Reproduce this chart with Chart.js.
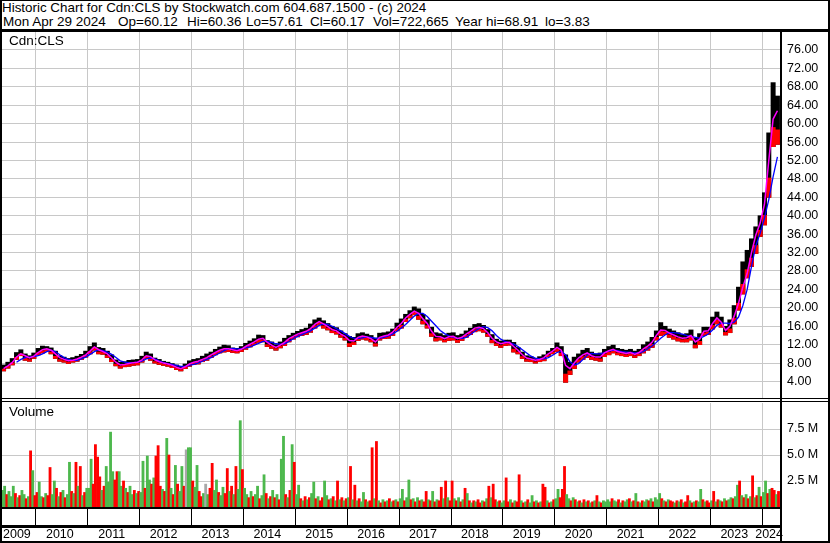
<!DOCTYPE html>
<html><head><meta charset="utf-8">
<script src="https://cdn.jsdelivr.net/npm/chart.js@4.4.1/dist/chart.umd.min.js"></script>
<style>
html,body{margin:0;padding:0;background:#fff;}
#wrap{position:relative;width:830px;height:543px;overflow:hidden;background:#fff;font-family:Arial,"Liberation Sans",sans-serif;color:#000;}
.ln{position:absolute;background:#000;}
.txt{position:absolute;white-space:pre;font-size:13.5px;line-height:14px;}
canvas{position:absolute;left:0;top:0;}
.box{position:absolute;}
</style></head><body>
<div id="wrap">
  <div class="box" style="left:2px;top:32px;width:826px;height:366px"><canvas id="price" width="826" height="366"></canvas></div>
  <div class="box" style="left:2px;top:403px;width:826px;height:138px"><canvas id="vol" width="826" height="138"></canvas></div>
  <div class="txt" style="left:2px;top:1px;font-size:13.4px">Historic Chart for Cdn:CLS by Stockwatch.com 604.687.1500 - (c) 2024</div>
  <div class="txt" style="left:3px;top:15px">Mon Apr 29 2024</div>
  <div class="txt" style="left:118px;top:15px">Op=60.12</div>
  <div class="txt" style="left:187px;top:15px">Hi=60.36</div>
  <div class="txt" style="left:246px;top:15px">Lo=57.61</div>
  <div class="txt" style="left:310px;top:15px">Cl=60.17</div>
  <div class="txt" style="left:373px;top:15px">Vol=722,665</div>
  <div class="txt" style="left:455px;top:15px">Year hi=68.91</div>
  <div class="txt" style="left:545px;top:15px">lo=3.83</div>
  <div class="txt" style="left:9px;top:34px">Cdn:CLS</div>
  <div class="txt" style="left:9px;top:405px">Volume</div>
  <div class="ln" style="left:0;top:0;width:830px;height:1px"></div>
  <div class="ln" style="left:0;top:0;width:2px;height:543px"></div>
  <div class="ln" style="left:828px;top:0;width:2px;height:543px"></div>
  <div class="ln" style="left:0;top:541px;width:830px;height:2px"></div>
  <div class="ln" style="left:0;top:29px;width:830px;height:3px"></div>
  <div class="ln" style="left:0;top:398px;width:830px;height:1px"></div>
  <div class="ln" style="left:0;top:401px;width:830px;height:1px"></div>
  <div class="ln" style="left:780px;top:32px;width:2px;height:511px"></div>
  <div class="ln" style="left:0;top:507px;width:782px;height:2px"></div>
  <div class="ln" style="left:0;top:525px;width:782px;height:3px"></div>
</div>
<script>
// ---------- DATA ----------
const yearLabels = ['2009','2010','2011','2012','2013','2014','2015','2016','2017','2018','2019','2020','2021','2022','2023','2024'];
const yearBoundaries = [2010,2011,2012,2013,2014,2015,2016,2017,2018,2019,2020,2021,2022,2023,2024];
const priceTicks = [4,8,12,16,20,24,28,32,36,40,44,48,52,56,60,64,68,72,76];
const volumeTicks = [2.5,5.0,7.5]; // millions

// Monthly price range, May 2009 .. Apr 2024
const priceLow = [
 6.3,6.9,7.6,8.8,9.6,8.6,8.4,9.0,
 9.8,10.2,10.6,10.0,9.0,8.4,8.2,7.9,8.2,8.4,8.8,9.3,
 10.0,10.8,10.0,9.9,9.2,8.3,7.4,6.9,7.2,7.3,7.5,7.6,
 8.2,9.0,8.6,8.0,7.7,7.5,7.3,7.0,6.6,6.3,6.8,7.3,
 7.7,7.8,8.3,8.6,9.2,9.8,10.2,10.4,10.5,10.3,10.2,10.5,
 11.0,11.5,12.0,12.5,12.6,11.6,11.2,10.8,11.3,11.8,12.6,13.2,
 13.7,14.0,14.2,14.7,15.6,16.3,15.6,15.2,14.6,14.3,13.6,13.0,
 11.6,12.0,12.9,13.2,13.0,12.6,11.7,13.0,13.3,13.4,14.0,15.0,
 15.6,17.0,17.8,18.5,17.5,16.5,15.6,13.8,12.8,13.0,12.6,12.9,
 13.0,12.5,12.9,13.6,14.2,14.8,15.0,14.7,13.8,12.4,11.8,11.4,
 11.8,11.9,10.4,10.0,9.0,8.4,8.3,8.0,8.3,8.5,9.4,10.0,
 10.5,9.6,3.83,5.5,6.8,8.2,8.8,9.2,8.8,8.6,8.4,9.4,
 9.8,10.2,9.8,9.6,9.4,9.6,9.2,9.6,10.2,10.8,11.4,13.0,
 14.0,14.2,13.6,13.2,12.8,12.6,12.6,13.0,11.3,12.0,14.0,14.2,
 15.4,16.5,15.8,14.1,14.6,16.5,19.5,23.0,26.5,29.0,31.8,35.5,
 38.0,44.0,55.0,55.5
];
const priceHigh = [
 7.6,8.2,9.0,10.3,10.9,10.0,9.6,10.2,
 11.2,11.7,11.6,11.3,10.6,9.6,9.3,9.0,9.2,9.5,9.9,10.6,
 11.6,12.4,11.4,11.2,10.6,9.8,8.7,8.2,8.3,8.6,8.7,8.8,
 9.5,10.4,10.0,9.1,8.8,8.4,8.2,7.9,7.6,7.3,7.8,8.5,
 8.8,9.0,9.5,10.0,10.4,11.0,11.5,11.9,11.8,11.3,11.2,11.6,
 12.3,12.8,13.3,14.1,14.0,12.9,12.6,12.0,12.6,13.4,14.0,14.5,
 14.9,15.3,15.6,16.5,17.4,17.8,17.2,16.6,16.0,15.7,15.0,14.4,
 13.8,13.6,14.4,14.6,14.3,14.0,13.4,14.5,14.6,14.8,15.4,16.7,
 17.6,18.6,19.4,20.2,19.8,18.6,17.4,15.8,14.6,14.4,14.0,14.5,
 14.6,14.0,14.3,15.0,15.6,16.4,16.6,16.2,15.3,14.2,13.2,12.8,
 13.0,13.0,12.5,11.4,10.4,9.6,9.4,9.0,9.4,9.8,10.6,11.2,
 12.4,11.6,9.8,8.2,9.3,10.0,10.8,11.2,10.4,10.0,10.2,11.0,
 11.6,11.9,11.2,11.0,10.8,11.0,10.6,11.0,12.0,12.6,13.6,15.0,
 16.8,16.0,15.4,15.0,14.6,14.2,14.4,15.2,13.4,14.4,15.8,15.8,
 18.0,19.1,18.0,16.0,17.4,20.5,24.5,30.0,32.5,35.0,37.6,40.0,
 45.0,58.0,68.91,66.0
];
// Short moving average (magenta)
const maShort = [
 6.8,7.4,8.1,9.3,10.0,9.6,9.1,9.5,
 10.3,10.9,11.1,10.8,10.0,9.2,8.8,8.5,8.6,8.9,9.3,9.8,
 10.6,11.5,10.9,10.5,10.0,9.1,8.2,7.6,7.7,7.9,8.1,8.2,
 8.7,9.6,9.4,8.7,8.3,8.0,7.8,7.5,7.1,6.8,7.2,7.8,
 8.2,8.4,8.8,9.2,9.8,10.3,10.8,11.1,11.1,10.9,10.7,11.0,
 11.6,12.1,12.6,13.2,13.4,12.5,11.9,11.4,11.9,12.5,13.3,13.8,
 14.3,14.6,14.9,15.5,16.4,17.0,16.5,15.9,15.3,15.0,14.3,13.8,
 12.9,12.8,13.6,13.9,13.7,13.3,12.6,13.6,13.9,14.1,14.7,15.8,
 16.6,17.8,18.6,19.3,18.8,17.6,16.6,14.9,13.8,13.7,13.3,13.7,
 13.8,13.3,13.6,14.3,14.9,15.6,15.8,15.5,14.6,13.4,12.6,12.2,
 12.4,12.5,11.6,10.8,9.8,9.1,8.9,8.6,8.8,9.2,10.0,10.6,
 11.4,10.8,7.5,6.8,8.0,9.1,9.8,10.2,9.6,9.3,9.3,10.2,
 10.7,11.0,10.5,10.3,10.1,10.3,9.9,10.3,11.1,11.7,12.5,14.0,
 15.2,15.1,14.5,14.1,13.7,13.4,13.5,14.0,12.6,13.2,14.9,15.0,
 16.6,17.8,16.9,15.1,16.0,18.2,21.0,24.5,27.5,32.0,35.8,38.4,
 42.5,52.0,61.0,62.8
];
// Long moving average (blue)
const maLong = [
 null,null,null,8.2,8.8,9.2,9.3,9.4,
 9.6,10.0,10.5,10.8,10.5,9.8,9.2,8.8,8.6,8.6,8.9,9.3,
 9.9,10.5,10.9,10.7,10.4,9.9,9.2,8.5,8.2,8.1,8.1,8.2,
 8.4,8.9,9.1,8.9,8.5,8.1,7.9,7.7,7.5,7.3,7.3,7.5,
 7.7,8.0,8.4,8.8,9.2,9.7,10.2,10.7,11.1,11.2,11.1,11.1,
 11.3,11.5,11.9,12.3,12.7,12.7,12.5,12.2,12.1,12.2,12.7,13.3,
 13.8,14.2,14.6,15.0,15.6,16.2,16.5,16.4,16.0,15.5,15.0,14.4,
 13.8,13.4,13.3,13.5,13.7,13.6,13.4,13.4,13.6,13.9,14.3,14.9,
 15.6,16.4,17.3,18.2,18.8,18.8,18.1,17.1,16.1,15.1,14.4,13.9,
 13.6,13.4,13.3,13.6,14.2,14.9,15.5,15.9,15.7,15.0,14.0,13.2,
 12.7,12.4,12.1,11.6,10.9,10.2,9.5,9.1,8.9,8.9,9.2,9.7,
 10.3,10.6,9.8,8.3,7.6,7.9,8.8,9.7,10.1,10.0,10.0,10.3,
 10.6,10.8,10.7,10.5,10.4,10.3,10.2,10.2,10.5,11.1,11.7,12.5,
 13.4,14.1,14.6,14.6,14.5,14.3,14.0,13.8,13.6,13.4,13.8,14.3,
 15.2,16.2,16.7,16.7,16.6,16.9,18.0,20.5,24.0,29.0,33.5,36.2,
 39.5,43.5,48.5,52.8
];
// Half-monthly volume in millions, May 2009 .. Apr 2024
const volume = [
 1.6,2.0,1.2,1.5,1.0,2.0,1.3,0.9,1.1,1.6,1.2,0.8,1.0,5.4,3.5,1.1,
 1.4,2.4,1.0,0.9,1.3,1.1,3.8,1.2,2.5,1.8,1.0,1.4,1.6,0.9,1.2,4.3,1.5,1.3,4.3,2.0,3.9,1.1,1.4,1.8,
 1.8,4.6,2.2,6.0,4.8,2.9,1.6,2.0,3.9,2.4,7.2,3.4,2.6,3.4,3.4,2.0,2.5,1.8,1.4,2.0,1.2,1.6,1.3,1.5,
 1.4,4.4,1.8,4.9,2.6,2.2,2.8,4.9,5.9,2.0,1.7,1.5,6.6,5.0,1.8,1.2,4.0,2.2,1.5,3.9,2.0,5.5,5.7,5.7,
 2.5,1.9,4.0,1.5,1.0,1.3,2.2,1.2,1.8,4.2,1.6,2.6,1.4,1.1,1.9,1.3,3.7,1.5,2.0,1.2,3.9,1.7,8.3,3.6,
 1.8,1.2,0.9,1.5,1.0,1.2,2.0,0.8,1.1,3.1,1.3,0.8,1.0,1.6,0.9,1.2,0.7,4.6,6.8,1.2,0.9,1.6,6.0,4.3,
 1.2,2.1,0.8,0.6,1.0,0.7,0.9,1.3,2.4,0.8,1.0,0.6,0.9,2.5,1.1,0.7,0.8,1.0,0.6,2.5,0.7,0.9,0.6,0.8,
 0.9,3.9,0.7,2.1,0.6,0.8,0.5,1.4,0.7,0.5,0.6,5.7,0.8,6.3,0.6,0.4,0.7,0.5,0.6,0.8,0.5,0.6,0.7,0.5,
 0.8,1.7,0.6,0.9,2.6,0.7,0.8,0.5,0.9,0.6,0.7,0.5,1.5,0.7,0.6,1.5,0.5,0.7,0.6,1.9,0.8,2.5,0.9,0.6,
 2.5,0.8,0.6,0.9,0.5,0.7,1.8,1.3,0.6,0.4,0.6,0.5,0.7,0.4,0.6,0.5,0.8,2.0,0.9,2.2,0.7,0.5,0.6,0.4,
 0.6,2.8,0.5,0.7,0.4,0.6,0.5,3.1,0.6,0.4,0.5,0.7,0.4,1.1,0.5,0.6,0.4,0.5,2.2,1.9,0.6,0.4,0.5,0.7,
 0.8,1.7,0.9,1.7,3.9,1.2,0.8,0.6,0.9,0.7,0.5,0.6,0.4,0.7,0.5,0.6,0.4,0.5,0.6,1.1,0.5,0.4,0.6,0.5,
 0.7,0.5,0.8,0.6,0.5,0.7,0.4,0.6,0.5,0.7,0.8,0.5,0.6,1.3,0.5,0.4,0.6,0.5,0.7,0.6,0.8,0.5,0.9,0.7,
 1.3,0.8,0.6,0.5,0.7,0.6,0.5,0.4,0.6,0.5,0.7,0.4,0.5,1.1,0.6,0.4,0.5,0.6,0.5,1.7,0.7,0.5,0.6,0.4,
 0.6,1.5,0.5,0.7,0.6,0.5,0.8,0.6,0.7,0.9,0.8,1.0,2.1,2.5,1.1,0.9,1.2,0.8,1.0,3.0,0.9,1.1,1.9,1.0,
 1.4,2.5,1.3,1.7,1.8,1.6,1.2,1.5
];
// Direction of each volume period: g = up, r = down, x = unchanged
const volumeDir = (
 "ggrgggrgrggrgrgr" +
 "rggrgrrggrgrgrggrgrgrgrg" + "ggrrrrgrggggrrggrgrggrgr" + "ggrggrgrrrgrgrgrgrggrxgg" +
 "rggrrgxgrrggrggrrgrgrggr" + "ggrgrggrggrgrgrgrggrgrgr" + "ggrgrgrggrgrrggrgrgrgrgr" +
 "grgrgrggrgrrgrgrgrgrgrgr" + "ggrggrgrgrgrrgrgrgrrgrgr" + "rgrgrgrgrgrgrrgrgrgrrgrg" +
 "grrgrgrrgrgrggrgrgrrgrgr" + "ggrrrggrgrgrgrgrgrgrgrgg" + "ggrggrgrggrgrgrgrggrgrgg" +
 "grgrgrrgrgrgrrgrgrggrgrr" + "grgrgrgrggrggrgrgrgrgrgr" + "ggrgrrgr").split("");

if (volume.length !== 360 || volumeDir.length !== 360 || priceLow.length !== 180 || priceHigh.length !== 180 || maShort.length !== 180 || maLong.length !== 180) {
  throw new Error("length mismatch " + [volume.length, volumeDir.length, priceLow.length, priceHigh.length, maShort.length, maLong.length].join(","));
}

// ---------- CHART ----------
Chart.defaults.font.family = 'Arial, "Liberation Sans", sans-serif';
Chart.defaults.font.size = 12.5;
Chart.defaults.color = '#000';

const X_MIN = 2009.345, X_MAX = 2024.341;
const monthT = i => 2009 + (4 + i + 0.5) / 12;
const halfT = k => 2009 + (8 + k + 0.5) / 24;
const labelPos = yearLabels.map(y => {
  const a = Math.max(+y, X_MIN), b = Math.min(+y + 1, X_MAX);
  return (a + b) / 2 - 0.04;
});
const GRID = '#c8c8c8';

function noPad(s) { s.paddingTop = 0; s.paddingBottom = 0; s.paddingLeft = 0; s.paddingRight = 0; }

function yearAxis(extra) {
  return Object.assign({
    type: 'linear', min: X_MIN, max: X_MAX, offset: false,
    afterBuildTicks: s => { s.ticks = yearBoundaries.map(v => ({ value: v })); },
    ticks: { display: false },
    grid: { color: GRID, lineWidth: 1, drawTicks: false, offset: false },
    border: { display: false },
    afterFit: s => { s.height = 0; noPad(s); }
  }, extra || {});
}

new Chart(document.getElementById('price'), {
  type: 'bar',
  data: {
    datasets: [
      { type: 'line', data: maShort.map((v, i) => ({ x: monthT(i), y: v })), borderColor: '#ff00ff', borderWidth: 1.5, pointRadius: 0, tension: 0, order: 0 },
      { type: 'line', data: maLong.map((v, i) => ({ x: monthT(i), y: v })), borderColor: '#0000ff', borderWidth: 1.3, pointRadius: 0, tension: 0, order: 1 },
      { type: 'bar', data: priceLow.map((l, i) => ({ x: monthT(i), y: [l, l + 0.3 * (priceHigh[i] - l)] })), backgroundColor: '#ff0000', grouped: false, barPercentage: 1, categoryPercentage: 1, order: 2 },
      { type: 'bar', data: priceLow.map((l, i) => ({ x: monthT(i), y: [l, priceHigh[i]] })), backgroundColor: '#000000', grouped: false, barPercentage: 1, categoryPercentage: 1, order: 3 }
    ]
  },
  options: {
    responsive: false, animation: false, events: [],
    layout: { padding: 0, autoPadding: false },
    plugins: { legend: { display: false }, tooltip: { enabled: false } },
    scales: {
      x: yearAxis(),
      y: {
        position: 'right', min: 0.42, max: 79.9,
        afterBuildTicks: s => { s.ticks = priceTicks.map(v => ({ value: v })); },
        ticks: { padding: 7, callback: v => Number(v).toFixed(2) },
        grid: { color: GRID, drawTicks: false },
        border: { display: false },
        afterFit: s => { s.width = 48; noPad(s); }
      }
    }
  }
});

const GREEN = '#4db84d', RED = '#ff0000', GRAY = '#a8a8a8';
new Chart(document.getElementById('vol'), {
  type: 'bar',
  data: {
    datasets: [{
      data: volume.map((v, k) => ({ x: halfT(k), y: v })),
      backgroundColor: volumeDir.map(d => d === 'g' ? GREEN : d === 'r' ? RED : GRAY),
      barPercentage: 1, categoryPercentage: 1, grouped: false, xAxisID: 'x', yAxisID: 'y'
    }]
  },
  options: {
    responsive: false, animation: false, events: [],
    layout: { padding: 0, autoPadding: false },
    plugins: { legend: { display: false }, tooltip: { enabled: false } },
    scales: {
      x: yearAxis({
        position: 'bottom', weight: 0,
        grid: { color: GRID, lineWidth: 1, drawTicks: true, tickLength: 18, tickColor: '#000', tickWidth: 1, offset: false },
        afterFit: s => { s.height = 18; noPad(s); }
      }),
      x2: {
        type: 'linear', min: X_MIN, max: X_MAX, offset: false, position: 'bottom', weight: 1,
        afterBuildTicks: s => { s.ticks = labelPos.map(v => ({ value: v })); },
        ticks: { autoSkip: false, maxRotation: 0, minRotation: 0, padding: 2, callback: (v, i) => yearLabels[i] },
        grid: { display: false, drawTicks: false, offset: false },
        border: { display: false },
        afterFit: s => { s.height = 16; noPad(s); }
      },
      y: {
        position: 'right', min: 0, max: 10,
        afterBuildTicks: s => { s.ticks = volumeTicks.map(v => ({ value: v })); },
        ticks: { padding: 7, callback: v => Number(v).toFixed(1) + ' M' },
        grid: { color: GRID, drawTicks: false },
        border: { display: false },
        afterFit: s => { s.width = 48; noPad(s); }
      }
    }
  }
});
</script>
</body></html>
